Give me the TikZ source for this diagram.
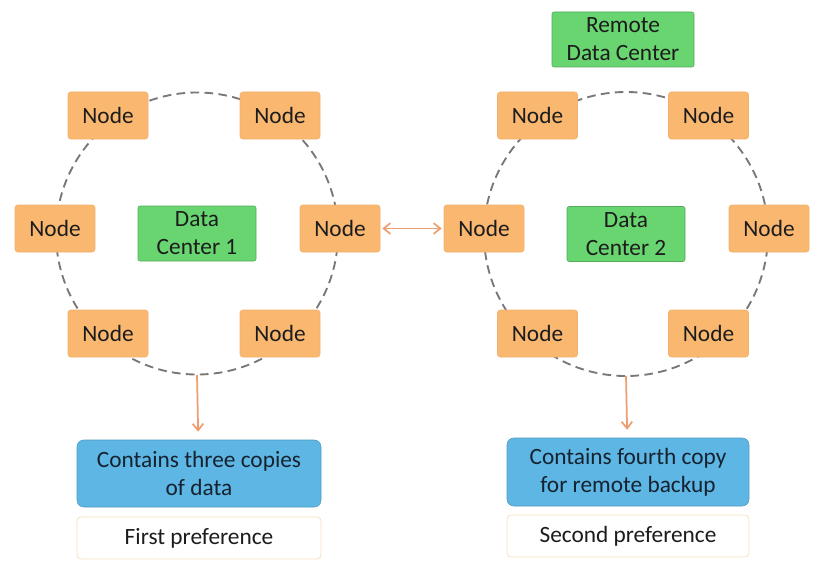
\documentclass[tikz,border=0pt]{standalone}
\usepackage{fontspec}
\setmainfont{Carlito}
\usetikzlibrary{arrows.meta}

\definecolor{nodeorange}{RGB}{249,183,112}
\definecolor{dcgreen}{RGB}{104,213,112}
\definecolor{infoblue}{RGB}{93,182,227}
\definecolor{linkorange}{RGB}{236,158,112}
\definecolor{ringgray}{RGB}{120,120,120}
\definecolor{prefedge}{RGB}{247,222,194}
\definecolor{txt}{RGB}{28,28,28}

\tikzset{
  ringnode/.style={draw=nodeorange!85!black!20!nodeorange, fill=nodeorange, rounded corners=2pt,
    minimum width=60pt, minimum height=35.25pt, inner sep=0pt, text=txt,
    font=\fontsize{17.5}{21}\selectfont},
  dcbox/.style={draw=dcgreen!80!black, line width=0.4pt, fill=dcgreen, rounded corners=1.5pt,
    minimum height=41.25pt, inner sep=0pt, align=center, text=txt,
    font=\fontsize{17.5}{21}\selectfont},
  infobox/.style={draw=infoblue!85!black, line width=0.4pt, fill=infoblue, rounded corners=5pt,
    minimum width=183pt, minimum height=50.25pt, inner sep=0pt, align=center,
    text={rgb,255:red,22;green,34;blue,48}, font=\fontsize{17.5}{21}\selectfont},
  prefbox/.style={draw=prefedge, line width=0.6pt, fill=white, rounded corners=3pt,
    minimum width=183pt, minimum height=31.5pt, inner sep=0pt, text=txt,
    font=\fontsize{17.5}{21}\selectfont},
  ring/.style={draw=ringgray, line width=1.4pt, dash pattern=on 6.5pt off 4pt},
  link/.style={draw=linkorange, line width=1.3pt},
}

\begin{document}
\begin{tikzpicture}[x=0.75pt,y=0.75pt,yscale=-1,xscale=1]
\useasboundingbox (0,0) rectangle (817,567);

%Shape: Circle [ring 1]
\draw [ring] (197,233.5) circle [radius=105.75pt];
%Shape: Circle [ring 2]
\draw [ring] (626,234) circle [radius=106.5pt];
\coordinate (ringAbot) at (197,375);
\coordinate (ringBbot) at (626,376);

% Nodes of data center 1
\node [ringnode] (aTL) at (108,115.5) {Node};
\node [ringnode] (aTR) at (280,115.5) {Node};
\node [ringnode] (aL) at (55,228.5) {Node};
\node [ringnode] (aR) at (340,228.5) {Node};
\node [ringnode] (aBL) at (108,333.5) {Node};
\node [ringnode] (aBR) at (280,333.5) {Node};
\node [dcbox, minimum width=88.5pt] (dcA) at (197,233.5) {Data\\Center 1};

% Nodes of data center 2
\node [ringnode] (bTL) at (537.5,115.5) {Node};
\node [ringnode] (bTR) at (708.5,115.5) {Node};
\node [ringnode] (bL) at (484,228.5) {Node};
\node [ringnode] (bR) at (769,228.5) {Node};
\node [ringnode] (bBL) at (537.5,333.5) {Node};
\node [ringnode] (bBR) at (708.5,333.5) {Node};
\node [dcbox, minimum width=88.5pt] (dcB) at (626,234) {Data\\Center 2};
\node [dcbox, minimum width=106.5pt] (remote) at (623,39.5) {Remote\\Data Center};

% Text Node
\node [infobox] (copiesA) at (199,473.5) {Contains three copies\\of data};
\node [prefbox] (prefA) at (199,538) {First preference};
\node [infobox, minimum width=181.5pt, minimum height=51pt] (copiesB) at (628,472) {Contains fourth copy\\for remote backup};
\node [prefbox, minimum width=181.5pt] (prefB) at (628,536) {Second preference};

%Straight Lines [links]
\draw [link, {Straight Barb[length=5pt,width=8pt]}-{Straight Barb[length=5pt,width=8pt]}, shorten <=1.5pt, shorten >=1.5pt] (aR) -- (bL);
\draw [link, -{Straight Barb[length=5pt,width=8pt]}, shorten >=6pt] (ringAbot) -- (copiesA);
\draw [link, -{Straight Barb[length=5pt,width=8pt]}, shorten >=6pt] (ringBbot) -- (copiesB);
\end{tikzpicture}
\end{document}
